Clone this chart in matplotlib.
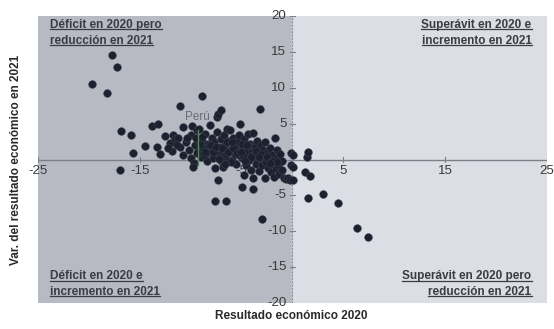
import matplotlib
matplotlib.use("Agg")
import matplotlib.pyplot as plt
from matplotlib.lines import Line2D

plt.rcParams['font.family'] = ['Liberation Sans', 'DejaVu Sans']

# --- datos ---
# puntos alejados
out_2020 = [-17.7, -17.2, -19.7, -18.2, -16.8, -15.9, -14.5, -15.7, -16.9, -13.8,
            -13.2, -11.0, -8.9, -7.6, -6.5, -3.0, 1.55, 3.0, 4.5, 6.3, 7.45]
out_var = [14.6, 12.9, 10.6, 9.3, 4.0, 3.4, 1.9, 0.95, -1.4, 4.7,
           4.9, 7.5, 8.8, -5.8, -5.8, -8.3, -5.3, -4.85, -6.0, -9.6, -10.75]

# nube principal
nube_2020 = [-13.3, -13.0, -12.5, -11.7, -12.0, -11.8, -11.5, -11.2, -11.0, -10.8,
             -10.8, -9.9, -9.4, -10.5, -10.2, -10.0, -10.0, -9.7, -9.8, -9.6,
             -9.5, -9.3, -9.2, -9.0, -8.9, -8.8, -8.6, -8.5, -8.4, -8.3,
             -8.1, -8.0, -7.9, -7.8, -7.7, -7.6, -7.5, -7.45, -7.4, -7.3,
             -7.3, -7.2, -7.1, -7.0, -7.0, -6.9, -6.8, -6.8, -6.7, -6.6,
             -6.5, -6.4, -6.3, -6.2, -6.1, -6.0, -5.9, -5.8, -5.7, -5.6,
             -5.5, -5.4, -5.3, -5.2, -5.15, -5.0, -5.0, -4.9, -4.8, -4.8,
             -4.7, -4.6, -4.5, -4.4, -4.3, -4.2, -4.1, -4.0, -3.9, -3.85,
             -3.85, -3.8, -3.7, -3.6, -3.5, -3.4, -3.3, -3.2, -3.2, -3.1,
             -3.0, -2.9, -2.8, -2.7, -2.7, -2.6, -2.5, -2.4, -2.3, -2.2,
             -2.1, -2.0, -1.9, -1.8, -1.7, -1.6, -1.55, -1.5, -1.4, -1.3,
             -1.2, -1.0, -1.0, -0.8, -0.6, -0.4, -0.2, -0.1, -0.1, 0.1,
             0.1, 0.1, 1.4, 1.55, 1.2, 1.7, -6.2, -5.6, -4.4, -8.7,
             -7.8, -6.0, -5.2, -3.4, -2.6, -7.0, -6.4, -5.0, -4.0, -8.2,
             -9.1, -8.6, -8.0, -7.5, -6.9, -6.3, -5.8, -5.4, -4.9, -4.5,
             -4.1, -3.6, -3.1, -2.5, -2.0, -1.5, -9.4, -8.9, -7.2, -5.9,
             -4.7, -3.3, -2.2, -6.6, -5.1, -10.4, -11.3, -12.2]
nube_var = [1.8, 0.8, 3.3, 3.4, 2.25, 1.2, 2.8, 3.0, 1.8, 0.6,
            4.6, 4.7, 4.1, 2.4, 1.4, 3.4, 0.2, -0.5, -1.0, 2.0,
            3.0, 1.2, 4.2, 0.4, 2.6, 1.6, 3.6, 0.8, -0.2, 2.2,
            4.8, 1.4, 3.0, 0.2, 2.4, -1.2, 1.0, 6.0, 3.8, 6.4,
            -2.9, 1.8, 0.4, 2.8, 6.9, -0.4, -1.0, 1.2, 3.4, 2.0,
            0.6, 4.3, -0.2, 2.6, 4.1, 1.4, 0.0, 3.0, 2.0, 0.8,
            -0.6, 2.6, 1.4, 3.4, 5.0, 0.2, -3.8, 1.8, -2.2, 2.8,
            0.8, -0.8, 1.2, 3.6, 0.0, 2.2, -1.4, 1.0, 3.65, -2.6,
            -4.15, 0.4, 1.8, -0.6, 2.6, 1.0, -1.6, 7.0, 0.2, 2.0,
            -0.8, 1.4, 0.6, -2.6, 2.5, -0.2, 1.0, -1.2, 0.2, 1.55,
            -1.8, 0.6, -0.6, -2.4, 3.0, -1.2, 1.3, 0.2, -0.8, -2.0,
            0.8, -0.2, -1.4, -2.6, -2.7, -2.6, -2.8, 0.85, -0.7, 0.6,
            -1.0, -2.85, 0.4, 1.1, -1.8, -2.25, 1.0, 1.6, 2.0, 0.6,
            1.0, -0.4, 0.6, 0.4, -0.4, 0.0, 2.4, 2.2, 0.5, 2.0,
            2.2, 1.0, 2.0, 1.8, 1.6, 1.1, 1.6, 0.9, 0.5, 2.0,
            0.3, 1.2, 0.8, 0.4, -0.2, -0.3, 0.9, 3.2, 0.1, 2.4,
            -0.2, 0.3, -0.5, -0.6, 1.1, 3.0, 2.0, 1.6]

peru_x, peru_y = -9.3, 6.0

x_ticks = [-25, -15, -5, 5, 15, 25]
y_ticks = [20, 15, 10, 5, -5, -10, -15, -20]

fig = plt.figure(figsize=(5.54, 3.29), dpi=100)
ax = fig.add_axes([0.0686, 0.079, 0.9184, 0.872])
ax.set_xlim(-25, 25)
ax.set_ylim(-20, 20)
for s in ax.spines.values():
    s.set_visible(False)
ax.set_xticks([])
ax.set_yticks([])

# fondos de cuadrantes
ax.axvspan(-25, 0, color='#b7bac3', zorder=0)
ax.axvspan(0, 25, color='#dcdee5', zorder=0)

# ejes en el origen
ax.axhline(0, color='#7d8088', lw=1.0, zorder=1)
ax.axvline(0, color='#8a8d94', lw=0.8, ls=(0, (2, 1)), zorder=1)
for xt in x_ticks:
    ax.plot([xt, xt], [-0.35, 0.35], color='#7d8088', lw=0.8, zorder=1)
for yt in y_ticks:
    ax.plot([-0.25, 0.25], [yt, yt], color='#7d8088', lw=0.8, zorder=1)

# etiquetas de ejes
for xt in x_ticks:
    ax.text(xt, -0.8, str(xt), ha='center', va='top', fontsize=9.5, color='#3a3a3a')
for yt in y_ticks:
    ax.text(-0.6, yt, str(yt), ha='right', va='center', fontsize=9.5, color='#3a3a3a')

ax.scatter(nube_2020, nube_var, s=32, color='#1c2130', edgecolors='#454a57',
           linewidths=0.3, zorder=3)
ax.scatter(out_2020, out_var, s=32, color='#1c2130', edgecolors='#454a57',
           linewidths=0.3, zorder=3)

# Perú
ax.plot([peru_x, peru_x], [4.1, -0.8], color='#4f8a4a', lw=1.0, zorder=4)
ax.text(peru_x, peru_y, 'Perú', ha='center', va='center', fontsize=8.5,
        color='#6b6e78', zorder=5)

# títulos de cuadrantes (subrayados)
quad = [
    (-23.8, 19.6, ['Déficit en 2020 pero', 'reducción en 2021'], 'left'),
    (23.5, 19.6, ['Superávit en 2020 e', 'incremento en 2021'], 'right'),
    (-23.8, -15.4, ['Déficit en 2020 e', 'incremento en 2021'], 'left'),
    (23.5, -15.4, ['Superávit en 2020 pero', 'reducción en 2021'], 'right'),
]
labels = []
for x0, y0, lines, ha in quad:
    for i, ln in enumerate(lines):
        t = ax.text(x0, y0 - i * 2.2, ln, ha=ha, va='top', fontsize=8.5,
                    fontweight='bold', color='#3a3c44', zorder=5)
        labels.append(t)

fig.text(0.525, 0.022, 'Resultado económico 2020', ha='center', va='bottom',
         fontsize=8.5, fontweight='bold', color='#2a2a2a')
fig.text(0.028, 0.515, 'Var. del resultado económico en 2021', ha='center',
         va='center', rotation=90, fontsize=8.5, fontweight='bold', color='#2a2a2a')

fig.canvas.draw()
inv = fig.transFigure.inverted()
for t in labels:
    bb = t.get_window_extent()
    (a, b), (c, d) = inv.transform([(bb.x0, bb.y0 + 1.5), (bb.x1, bb.y0 + 1.5)])
    fig.add_artist(Line2D([a, c], [b, d], color='#3a3c44', lw=0.9))

fig.savefig('out.png', dpi=100)
